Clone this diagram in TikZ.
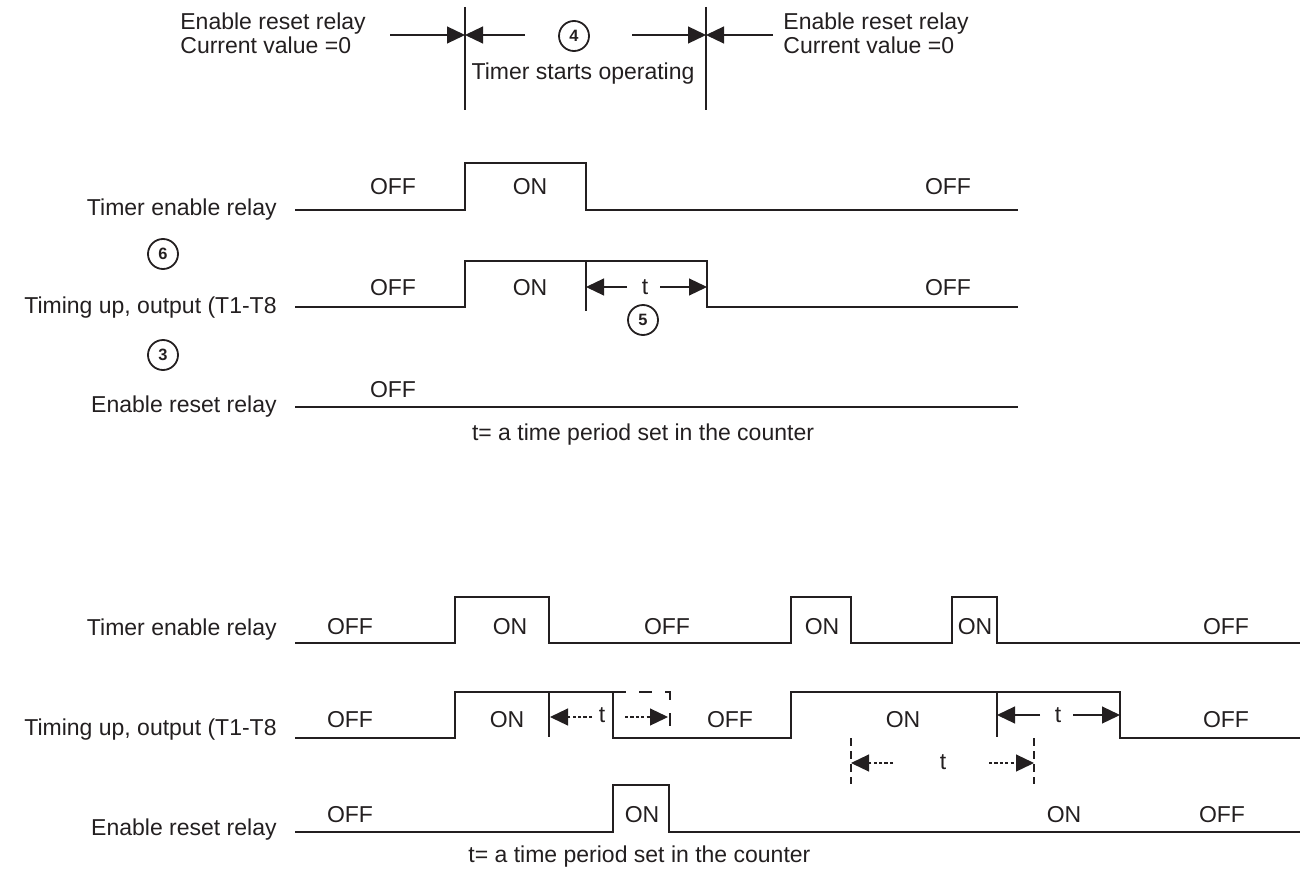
\documentclass[tikz,border=0pt]{standalone}
\usepackage{fontspec}
\setmainfont{Liberation Sans}
\usetikzlibrary{arrows.meta, positioning}
\definecolor{RelayInk}{RGB}{35, 31, 32}
\tikzset{
    signal/.style={RelayInk, line width=1.2pt, line join=miter},
    marker/.style={RelayInk, line width=0.6pt},
    tick/.style={RelayInk, line width=0.6pt, -{Triangle[length=9pt, width=8.5pt]}},
    dottick/.style={tick, dash pattern=on 1.6pt off 1.1pt},
    ghost/.style={RelayInk, line width=1.2pt, dash pattern=on 6.5pt off 6.5pt},
    guide/.style={RelayInk, line width=0.7pt, dash pattern=on 4pt off 2.5pt},
    rowlabel/.style={text=RelayInk, anchor=mid east, inner sep=0pt},
    state/.style={text=RelayInk, anchor=center, inner sep=0pt},
    numcircle/.style={RelayInk, draw, circle, line width=0.9pt, minimum size=15pt, inner sep=0pt,
        font=\bfseries\fontsize{8.2}{9}\selectfont}
}

\begin{document}
\begin{tikzpicture}[x=0.5pt, y=-0.5pt, every node/.style={font=\fontsize{11.5}{12}\selectfont}]

    \useasboundingbox (0,0) rectangle (1300,872);

    %Header
    \node[text=RelayInk, anchor=west, align=left, inner sep=0pt] (resetL) at (180,33) {Enable reset relay\\Current value =0};
    \node[text=RelayInk, anchor=west, align=left, inner sep=0pt] (resetR) at (783,33) {Enable reset relay\\Current value =0};
    \draw[marker] (465,7) -- (465,110);
    \draw[marker] (706,7) -- (706,110);
    \draw[tick] (390,35) -- (465,35);
    \draw[tick] (525,35) -- (465,35);
    \draw[tick] (632,35) -- (706,35);
    \draw[tick] (773,35) -- (706,35);
    \node[numcircle] (n4) at (574,36) {4};
    \node[state] (starts) at (583,74) {Timer starts operating};

    %Single cycle
    \node[rowlabel] (enA) at (277,210) {Timer enable relay};
    \node[rowlabel] (upA) at (277,308) {Timing up, output (T1-T8};
    \node[rowlabel] (rsA) at (277,407) {Enable reset relay};
    \node[numcircle] (n6) at (163,254) {6};
    \node[numcircle] (n3) at (163,355) {3};

    \draw[signal] (295,210) -- (465,210) -- (465,163) -- (586,163) -- (586,210) -- (1018,210);
    \node[state] (enA1) at (393,187) {OFF};
    \node[state] (enA2) at (530,187) {ON};
    \node[state] (enA3) at (948,187) {OFF};

    \draw[signal] (295,307) -- (465,307) -- (465,261) -- (707,261) -- (707,307) -- (1018,307);
    \draw[marker] (586,261) -- (586,311);
    \draw[tick] (627,287) -- (586,287);
    \draw[tick] (660,287) -- (707,287);
    \node[state] (tA) at (645,287) {t};
    \node[numcircle] (n5) at (643,320) {5};
    \node[state] (upA1) at (393,288) {OFF};
    \node[state] (upA2) at (530,288) {ON};
    \node[state] (upA3) at (948,288) {OFF};

    \draw[signal] (295,407) -- (1018,407);
    \node[state] (rsA1) at (393,390) {OFF};
    \node[text=RelayInk, anchor=mid] (noteA) at (643,435) {t= a time period set in the counter};

    %Repeated cycles
    \node[rowlabel] (enB) at (277,630) {Timer enable relay};
    \node[rowlabel] (upB) at (277,730) {Timing up, output (T1-T8};
    \node[rowlabel] (rsB) at (277,830) {Enable reset relay};

    \draw[signal] (295,643) -- (455,643) -- (455,597) -- (549,597) -- (549,643) -- (791,643) -- (791,597)
        -- (851,597) -- (851,643) -- (952,643) -- (952,597) -- (997,597) -- (997,643) -- (1300,643);
    \node[state] (enB1) at (350,627) {OFF};
    \node[state] (enB2) at (510,627) {ON};
    \node[state] (enB3) at (667,627) {OFF};
    \node[state] (enB4) at (822,627) {ON};
    \node[state] (enB5) at (975,627) {ON};
    \node[state] (enB6) at (1226,627) {OFF};

    \draw[signal] (295,738) -- (455,738) -- (455,692) -- (613,692) -- (613,738) -- (791,738) -- (791,692)
        -- (1120,692) -- (1120,738) -- (1300,738);
    \draw[ghost] (613,692) -- (670,692) -- (670,738);
    \draw[marker] (549,692) -- (549,737);
    \draw[marker] (997,692) -- (997,737);
    \draw[dottick] (592,717) -- (550,717);
    \draw[dottick] (625,717) -- (668,717);
    \node[state] (tB1) at (602,715) {t};
    \draw[tick] (1040,715) -- (997,715);
    \draw[tick] (1073,715) -- (1120,715);
    \node[state] (tB2) at (1058,715) {t};
    \draw[guide] (851,738) -- (851,784);
    \draw[guide] (1034,738) -- (1034,784);
    \draw[dottick] (893,763) -- (851,763);
    \draw[dottick] (989,763) -- (1034,763);
    \node[state] (tB3) at (943,762) {t};
    \node[state] (upB1) at (350,720) {OFF};
    \node[state] (upB2) at (507,720) {ON};
    \node[state] (upB3) at (730,720) {OFF};
    \node[state] (upB4) at (903,720) {ON};
    \node[state] (upB5) at (1226,720) {OFF};

    \draw[signal] (295,832) -- (613,832) -- (613,785) -- (669,785) -- (669,832) -- (1300,832);
    \node[state] (rsB1) at (350,815) {OFF};
    \node[state] (rsB2) at (642,815) {ON};
    \node[state] (rsB3) at (1064,815) {ON};
    \node[state] (rsB4) at (1222,815) {OFF};
    \node[text=RelayInk, anchor=mid west, inner sep=0pt] (noteB) at (468,857) {t= a time period set in the counter};

\end{tikzpicture}
\end{document}
